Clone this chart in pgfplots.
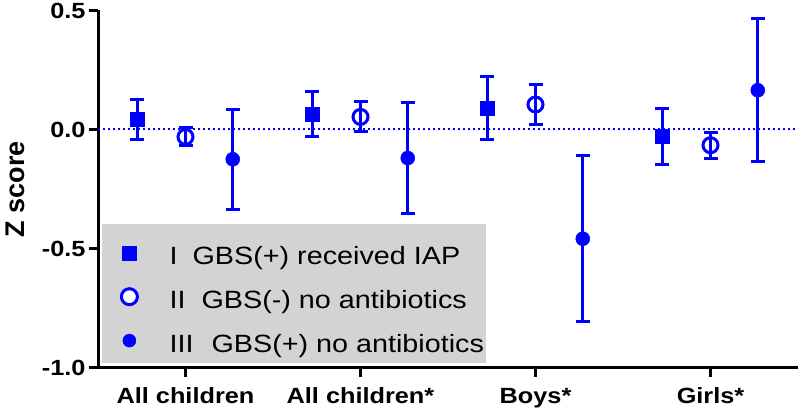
\documentclass[border=0pt]{standalone}
\usepackage{pgfplots}
\pgfplotsset{compat=1.18}
\usepackage{fontspec}
\setmainfont{Liberation Sans}
\newfontfamily\widefont{Liberation Sans}[FakeStretch=1.15]
\definecolor{legfill}{RGB}{211,211,211}

\pgfplotstableread{
x y e
0.725 0.042 0.084
1.725 0.065 0.093
2.725 0.091 0.133
3.725 -0.029 0.117
}\groupI
\pgfplotstableread{
x y e
1 -0.031 0.038
2 0.053 0.063
3 0.105 0.085
4 -0.066 0.055
}\groupII
\pgfplotstableread{
x y e
1.27 -0.125 0.210
2.27 -0.120 0.233
3.27 -0.459 0.349
4.27 0.165 0.300
}\groupIII

\newcommand{\legstrut}{\rule[-7pt]{0pt}{39pt}}

\begin{document}
\begin{tikzpicture}
\useasboundingbox (0,0) rectangle (800pt,412pt);
\begin{axis}[
  at={(98pt,44.5pt)}, anchor=south west,
  width=700pt, height=357pt, scale only axis,
  xmin=0.5, xmax=4.5, ymin=-1, ymax=0.5,
  clip=false,
  axis lines=left,
  axis line style={-, line width=3pt, black},
  xtick={1,2,3,4},
  xticklabels={All children, All children*, Boys*, Girls*},
  ytick={-1,-0.5,0,0.5},
  yticklabels={-1.0,-0.5,0.0,0.5},
  tick style={black, line width=2.5pt},
  major tick length=9pt, tick align=outside,
  xticklabel style={font=\widefont\bfseries\fontsize{22}{26}\selectfont, yshift=-8pt},
  yticklabel style={font=\widefont\bfseries\fontsize{22}{26}\selectfont},
  ylabel={Z score},
  ylabel style={at={(axis description cs:-0.1043,0.50)}, anchor=base, inner sep=0pt,
    font=\bfseries\fontsize{27}{30}\selectfont},
  legend style={at={(axis description cs:0.0057,0.0126)}, anchor=south west,
    fill=legfill, draw=none, inner xsep=2pt, inner ysep=6pt,
    row sep=4.5pt, column sep=32pt,
    font=\widefont\fontsize{25}{30}\selectfont,
    nodes={inner sep=0pt}},
  legend cell align=left,
]
\addplot[blue, dash pattern=on 2pt off 3pt, line width=2pt, forget plot] coordinates {(0.5,0) (4.5,0)};

\addplot[only marks, blue, mark=square*, mark size=7pt,
  mark options={fill=blue, draw=blue, line width=0.1pt},
  legend image code/.code={\path (-25pt,-19.5pt) (8pt,19.5pt); \draw[blue, only marks, mark=square*, mark size=7pt, mark options={fill=blue, draw=blue, line width=0.1pt}] plot coordinates {(0pt,-3.5pt)};},
  error bars/.cd, y dir=both, y explicit,
  error bar style={line width=3pt, blue},
  error mark options={rotate=90, mark size=7pt, line width=3pt, blue}]
  table[x=x, y=y, y error=e] {\groupI};
\addlegendentry{\legstrut I\hspace{15pt}GBS(+) received IAP}

\addplot[only marks, blue, mark=o, mark size=7.5pt,
  mark options={draw=blue, line width=3pt},
  legend image code/.code={\path (-25pt,-19.5pt) (8pt,19.5pt); \draw[blue, only marks, mark=*, mark size=8pt, mark options={fill=white, draw=blue, line width=3pt}] plot coordinates {(0pt,-3.5pt)};},
  error bars/.cd, y dir=both, y explicit,
  error bar style={line width=3pt, blue},
  error mark options={rotate=90, mark size=7pt, line width=3pt, blue}]
  table[x=x, y=y, y error=e] {\groupII};
\addlegendentry{\legstrut II\hspace{16pt}GBS(-) no antibiotics}

\addplot[only marks, blue, mark=*, mark size=7pt,
  mark options={fill=blue, draw=blue, line width=0.5pt},
  legend image code/.code={\path (-25pt,-19.5pt) (8pt,19.5pt); \draw[blue, only marks, mark=*, mark size=6.5pt, mark options={fill=blue, draw=blue, line width=0.5pt}] plot coordinates {(0pt,-3.5pt)};},
  error bars/.cd, y dir=both, y explicit,
  error bar style={line width=3pt, blue},
  error mark options={rotate=90, mark size=7pt, line width=3pt, blue}]
  table[x=x, y=y, y error=e] {\groupIII};
\addlegendentry{\legstrut III\hspace{18pt}GBS(+) no antibiotics}
\end{axis}
\end{tikzpicture}
\end{document}
